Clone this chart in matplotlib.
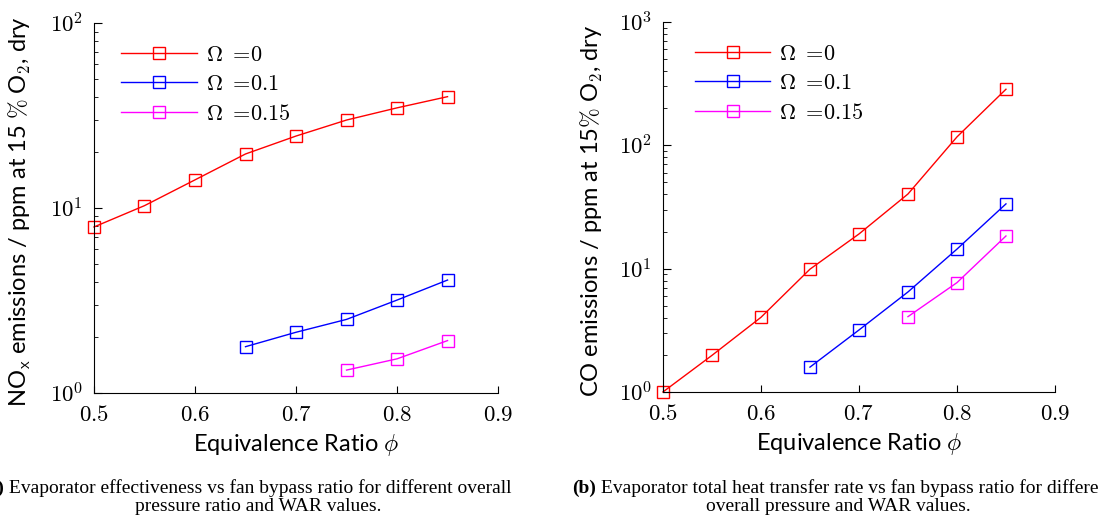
import numpy as np
import matplotlib
matplotlib.use("Agg")
import matplotlib.pyplot as plt
from matplotlib.ticker import FuncFormatter, LogLocator, NullFormatter

plt.rcParams["mathtext.fontset"] = "cm"

# equivalence ratio values
phi_all = [0.5, 0.55, 0.6, 0.65, 0.7, 0.75, 0.8, 0.85]
phi_01 = [0.65, 0.7, 0.75, 0.8, 0.85]
phi_015 = [0.75, 0.8, 0.85]

# NOx emissions (ppm at 15% O2, dry)
nox_0 = [7.9, 10.3, 14.2, 19.6, 24.5, 29.9, 34.8, 40.0]
nox_01 = [1.78, 2.13, 2.5, 3.18, 4.08]
nox_015 = [1.33, 1.53, 1.92]

# CO emissions (ppm at 15% O2, dry)
co_0 = [1.0, 1.98, 4.03, 9.9, 19.1, 40.3, 117.0, 285.0]
co_01 = [1.59, 3.18, 6.47, 14.4, 33.5]
co_015 = [4.08, 7.7, 18.4]

labels = [r"$\Omega\ =\!0$", r"$\Omega\ =\!0.1$", r"$\Omega\ =\!0.15$"]
colors = ["#ff0000", "#0000ff", "#ff00ff"]

sans = "Lato"
serif = "Liberation Serif"


def style_axis(ax, ymax, ylabel, legend_x):
    ax.set_xlim(0.5, 0.9)
    ax.set_yscale("log")
    ax.set_ylim(1, ymax)
    ax.set_xticks([0.5, 0.6, 0.7, 0.8, 0.9])
    ax.xaxis.set_major_formatter(FuncFormatter(lambda v, p: f"${v:.1f}$"))
    ax.yaxis.set_major_locator(LogLocator(base=10))
    ax.yaxis.set_major_formatter(
        FuncFormatter(lambda v, p: f"$10^{{{int(round(np.log10(v)))}}}$"))
    ax.yaxis.set_minor_locator(LogLocator(base=10, subs=np.arange(2, 10)))
    ax.yaxis.set_minor_formatter(NullFormatter())
    ax.spines["top"].set_visible(False)
    ax.spines["right"].set_visible(False)
    ax.tick_params(axis="both", which="both", direction="in", labelsize=16.5)
    ax.tick_params(axis="x", which="major", length=5, pad=7)
    ax.tick_params(axis="y", which="major", length=6, pad=8)
    ax.tick_params(axis="y", which="minor", length=3)
    ax.set_xlabel(r"Equivalence Ratio $\phi$", fontsize=17, family=sans)
    ax.set_ylabel(ylabel, fontsize=17, family=sans)
    ax.xaxis.set_label_coords(0.5, -0.105)
    ax.legend(frameon=False, loc="upper left", bbox_to_anchor=(legend_x, 0.995),
              fontsize=16, handlelength=3.4, labelspacing=0.42, handletextpad=0.4)


fig = plt.figure(figsize=(10.98, 5.24), dpi=100)
ax1 = fig.add_axes([0.0856, 0.25, 0.368, 0.706])
ax2 = fig.add_axes([0.6038, 0.252, 0.357, 0.706])

for ax, xs, ys in [(ax1, [phi_all, phi_01, phi_015], [nox_0, nox_01, nox_015]),
                   (ax2, [phi_all, phi_01, phi_015], [co_0, co_01, co_015])]:
    for x, y, c, lab in zip(xs, ys, colors, labels):
        ax.plot(x, y, color=c, marker="s", markersize=8, markerfacecolor="none",
                markeredgewidth=1.0, linewidth=1.0, label=lab, clip_on=False)

style_axis(ax1, 100, r"NO$_\mathsf{x}$ emissions / ppm at 15 $\%$ O$_2$, dry", 0.018)
style_axis(ax2, 1000, r"CO emissions / ppm at 15$\%$ O$_2$, dry", 0.03)
ax1.yaxis.set_label_coords(-0.151, 0.49)
ax2.yaxis.set_label_coords(-0.148, 0.49)

# captions
cap = 14
ta = fig.text(4 / 1098, 1 - 493 / 524, "(a)", fontsize=cap, family=serif,
              weight="bold", ha="right", va="baseline")
plt.annotate(" Evaporator effectiveness vs fan bypass ratio for different overall",
             xy=(1, 0), xycoords=ta, fontsize=cap, family=serif, va="bottom")
fig.text(258 / 1098, 1 - 511 / 524, "pressure ratio and WAR values.", fontsize=cap,
         family=serif, ha="center", va="baseline")

tb = fig.text(572 / 1098, 1 - 493 / 524, "(b)", fontsize=cap, family=serif,
              weight="bold", ha="left", va="baseline")
plt.annotate(" Evaporator total heat transfer rate vs fan bypass ratio for different",
             xy=(1, 0), xycoords=tb, fontsize=cap, family=serif, va="bottom")
fig.text(838 / 1098, 1 - 511 / 524, "overall pressure and WAR values.", fontsize=cap,
         family=serif, ha="center", va="baseline")

fig.savefig("out.png", dpi=100)
